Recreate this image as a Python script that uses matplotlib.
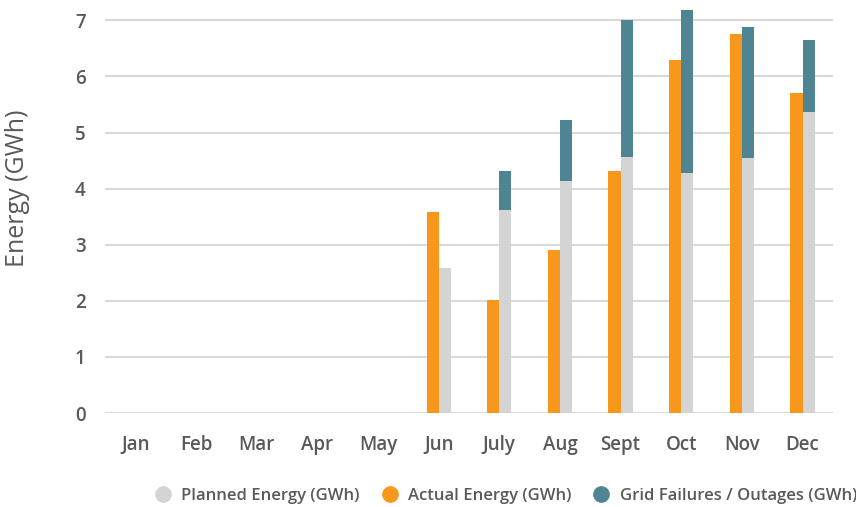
import numpy as np
import matplotlib
matplotlib.use("Agg")
import matplotlib.pyplot as plt
from matplotlib.lines import Line2D

plt.rcParams['font.family'] = ['Open Sans', 'DejaVu Sans']

# data
months = ['Jan', 'Feb', 'Mar', 'Apr', 'May', 'Jun', 'July', 'Aug', 'Sept', 'Oct', 'Nov', 'Dec']
actual = [0, 0, 0, 0, 0, 3.58, 2.01, 2.91, 4.31, 6.29, 6.76, 5.70]
planned = [0, 0, 0, 0, 0, 2.58, 3.62, 4.13, 4.56, 4.28, 4.55, 5.37]
grid_failures = [0, 0, 0, 0, 0, 0, 0.69, 1.09, 2.44, 2.90, 2.33, 1.28]

c_planned = '#D3D4D3'
c_actual = '#F7981D'
c_grid = '#4F8592'
txt = '#595959'

fig = plt.figure(figsize=(8.56, 5.07), dpi=100)
ax = fig.add_axes([0.1227, 0.1854, 0.8503, 0.8076])

x = np.arange(len(months))
w = 0.2
ax.bar(x - w / 2, actual, w, color=c_actual, zorder=3)
ax.bar(x + w / 2, planned, w, color=c_planned, zorder=3)
ax.bar(x + w / 2, grid_failures, w, bottom=planned, color=c_grid, zorder=3)

ax.set_xlim(-0.5, len(months) - 0.5)
ax.set_ylim(0, 7.3)
ax.set_yticks(range(8))
ax.set_xticks(x)
ax.set_xticklabels(months)
ax.yaxis.grid(True, color='#D9D9D9', linewidth=1.5, zorder=0)
ax.tick_params(length=0, labelsize=13.5, labelcolor=txt)
ax.tick_params(axis='x', pad=16)
ax.tick_params(axis='y', pad=14)
for lab in ax.get_xticklabels() + ax.get_yticklabels():
    lab.set_fontweight('semibold')
for s in ax.spines.values():
    s.set_visible(False)

fig.text(0.021, 0.628, 'Energy (GWh)', rotation=90, ha='center', va='center',
         fontsize=18, color=txt)

handles = [
    Line2D([], [], marker='o', ls='', markersize=11, color=c_planned, label='Planned Energy (GWh)'),
    Line2D([], [], marker='o', ls='', markersize=11, color=c_actual, label='Actual Energy (GWh)'),
    Line2D([], [], marker='o', ls='', markersize=11, color=c_grid, label='Grid Failures / Outages (GWh)'),
]
leg = fig.legend(handles=handles, loc='center', bbox_to_anchor=(0.586, 0.022), ncol=3,
                 frameon=False, handletextpad=0.1, columnspacing=0.8,
                 prop={'size': 12, 'weight': 'semibold'})
for t in leg.get_texts():
    t.set_color(txt)

fig.savefig('out.png', dpi=100)
